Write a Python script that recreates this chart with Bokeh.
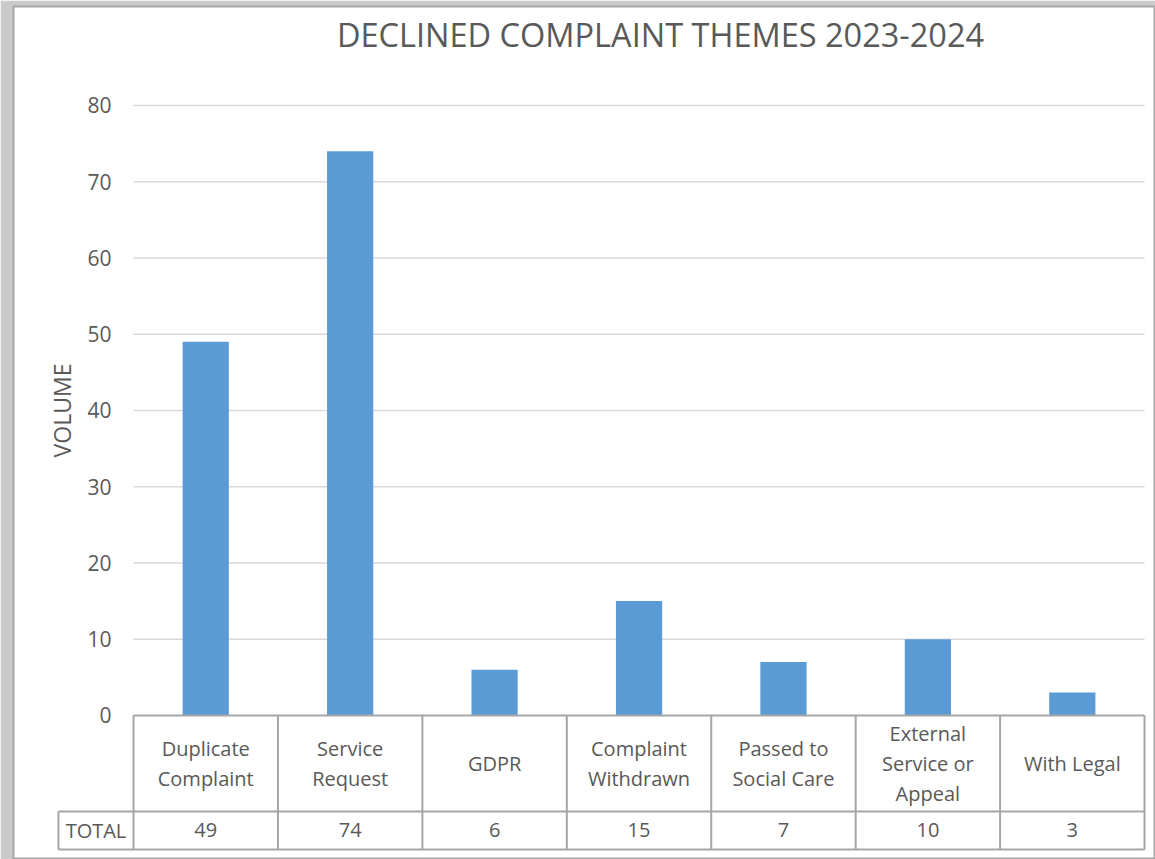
from bokeh.plotting import figure
from bokeh.models import FixedTicker, Label, Range1d
from bokeh.core.properties import value
from bokeh.embed import file_html
from bokeh.resources import INLINE

# ---- data ----
categories = ["Duplicate\nComplaint", "Service\nRequest", "GDPR", "Complaint\nWithdrawn",
              "Passed to\nSocial Care", "External\nService or\nAppeal", "With Legal"]
volumes = [49, 74, 6, 15, 7, 10, 3]
y_ticks = [0, 10, 20, 30, 40, 50, 60, 70, 80]
title_text = "DECLINED COMPLAINT THEMES 2023-2024"
row_label = "TOTAL"
y_label = "VOLUME"

# ---- layout constants ----
FONT = "Open Sans"
TXT = "#595959"
BAR = "#5B9BD5"
GRID = "#d9d9d9"
TABLE = "#a6a6a6"
HEADER_BOTTOM = -12.6
TABLE_BOTTOM = -17.57
TOTAL_LEFT = -0.52
BAR_WIDTH = 0.32

n = len(categories)
xs = [i + 0.5 for i in range(n)]
cols = list(range(n + 1))

p = figure(width=1155, height=859, x_range=Range1d(-0.831, 7.076), y_range=Range1d(-18.89, 92.98),
           output_backend="svg", toolbar_location=None, x_axis_location=None,
           min_border_left=13, min_border_top=6, min_border_right=0, min_border_bottom=0)
p.background_fill_color = "white"
p.border_fill_color = "#cacaca"
p.outline_line_color = TABLE
p.outline_line_width = 2
p.xgrid.visible = False
p.ygrid.visible = False

# y axis
ax = p.yaxis[0]
ax.fixed_location = 0
ax.bounds = (y_ticks[0], y_ticks[-1])
ax.ticker = FixedTicker(ticks=y_ticks)
ax.axis_line_color = None
ax.major_tick_line_color = None
ax.minor_tick_line_color = None
ax.major_label_standoff = 16
ax.major_label_text_font = FONT
ax.major_label_text_font_size = "21px"
ax.major_label_text_color = TXT
ax.axis_label = y_label
ax.axis_label_text_font = FONT
ax.axis_label_text_font_style = "normal"
ax.axis_label_text_font_size = "23px"
ax.axis_label_text_color = TXT
ax.axis_label_standoff = 6

# gridlines
p.segment(x0=0, x1=n, y0=y_ticks[1:], y1=y_ticks[1:], line_color=GRID, line_width=1.5)

# bars
p.vbar(x=xs, top=volumes, bottom=0, width=BAR_WIDTH, fill_color=BAR, line_color=None)

# data table lines
p.segment(x0=cols, x1=cols, y0=0, y1=TABLE_BOTTOM, line_color=TABLE, line_width=2)
p.segment(x0=[0, TOTAL_LEFT, TOTAL_LEFT], x1=[n, n, n], y0=[0, HEADER_BOTTOM, TABLE_BOTTOM],
          y1=[0, HEADER_BOTTOM, TABLE_BOTTOM], line_color=TABLE, line_width=2)
p.segment(x0=TOTAL_LEFT, x1=TOTAL_LEFT, y0=HEADER_BOTTOM, y1=TABLE_BOTTOM, line_color=TABLE, line_width=2)

# table text
p.text(x=xs, y=HEADER_BOTTOM / 2, text=categories, text_align="center", text_baseline="middle",
       text_font=value(FONT), text_font_size="20px", text_color=TXT, text_line_height=1.12)
p.text(x=xs, y=(HEADER_BOTTOM + TABLE_BOTTOM) / 2, text=[str(v) for v in volumes], text_align="center",
       text_baseline="middle", text_font=value(FONT), text_font_size="20px", text_color=TXT)
p.text(x=[TOTAL_LEFT / 2], y=[(HEADER_BOTTOM + TABLE_BOTTOM) / 2], text=[row_label], text_align="center",
       text_baseline="middle", text_font=value(FONT), text_font_size="20px", text_color=TXT)

# title
p.add_layout(Label(x=647, y=825, x_units="screen", y_units="screen", text=title_text,
                   text_align="center", text_baseline="middle", text_font=FONT,
                   text_font_size="32.5px", text_color=TXT))

open("out.html", "w").write(file_html(p, INLINE))
